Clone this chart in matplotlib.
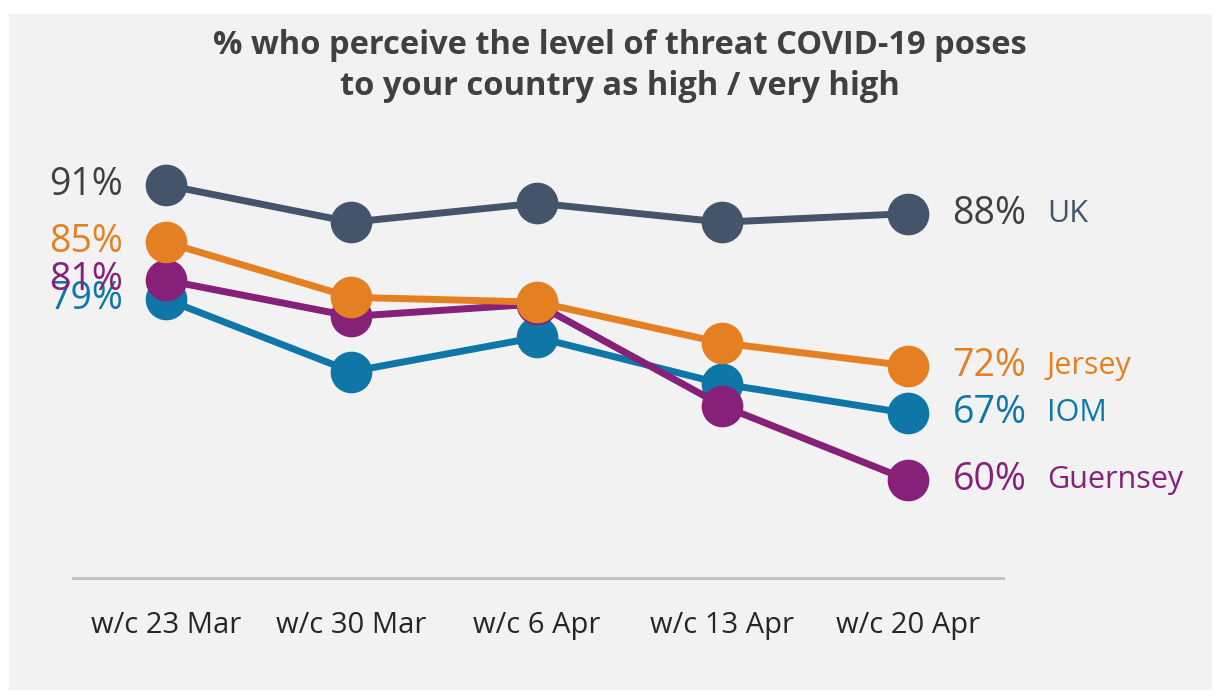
import matplotlib.pyplot as plt
from matplotlib.patches import Rectangle

# Datos
weeks = ["w/c 23 Mar", "w/c 30 Mar", "w/c 6 Apr", "w/c 13 Apr", "w/c 20 Apr"]
uk = [91, 87.1, 89.1, 87.1, 88]
iom = [79, 71.4, 75.0, 70.1, 67]
guernsey = [81, 77.2, 78.5, 67.8, 60]
jersey = [85, 79.2, 78.7, 74.4, 72]

series = [
    ("UK", uk, "#44546a", "#404040"),
    ("IOM", iom, "#0f77a8", "#0f77a8"),
    ("Guernsey", guernsey, "#862079", "#862079"),
    ("Jersey", jersey, "#e58022", "#e58022"),
]

plt.rcParams["font.family"] = ["Open Sans", "DejaVu Sans"]

fig = plt.figure(figsize=(12.2, 6.98), dpi=100)
fig.patch.set_facecolor("white")
fondo = Rectangle((9 / 1220, 1 - 690 / 698), (1212 - 9) / 1220, (690 - 14) / 698,
                  transform=fig.transFigure, facecolor="#f2f2f2",
                  edgecolor="none", zorder=-10)
fig.patches.append(fondo)

ax = fig.add_axes([73 / 1220, 1 - 578 / 698, 930 / 1220, (578 - 147) / 698])
ax.set_facecolor("none")
ax.set_zorder(1)
x = list(range(len(weeks)))

for z, (name, vals, color, pcolor) in enumerate(series):
    ax.plot(x, vals, color=color, lw=5, marker="o", markersize=29, zorder=3 + z)
    ax.annotate(f"{round(vals[0])}%", (x[0], vals[0]), xytext=(-31, 0),
                textcoords="offset points", ha="right", va="center",
                fontsize=27, color=pcolor, zorder=10)
    ax.annotate(f"{round(vals[-1])}%", (x[-1], vals[-1]), xytext=(32, 0),
                textcoords="offset points", ha="left", va="center",
                fontsize=27, color=pcolor, zorder=10)
    ax.annotate(name, (x[-1], vals[-1]), xytext=(100, 0),
                textcoords="offset points", ha="left", va="center",
                fontsize=22, color=color, zorder=10)

ax.set_xlim(-0.5, 4.512)
ax.set_ylim(49.7, 95)
ax.set_xticks(x)
ax.set_xticklabels(weeks, fontsize=21, color="#262626")
ax.tick_params(axis="x", length=0, pad=24)
ax.set_yticks([])
for s in ["top", "left", "right"]:
    ax.spines[s].set_visible(False)
ax.spines["bottom"].set_color("#c3c3c3")
ax.spines["bottom"].set_linewidth(2.2)

fig.text(620 / 1220, 1 - 66 / 698,
         "% who perceive the level of threat COVID-19 poses\nto your country as high / very high",
         ha="center", va="center", fontsize=23.5, fontweight="bold", color="#404040",
         linespacing=1.3)

plt.savefig("out.png", dpi=100)
